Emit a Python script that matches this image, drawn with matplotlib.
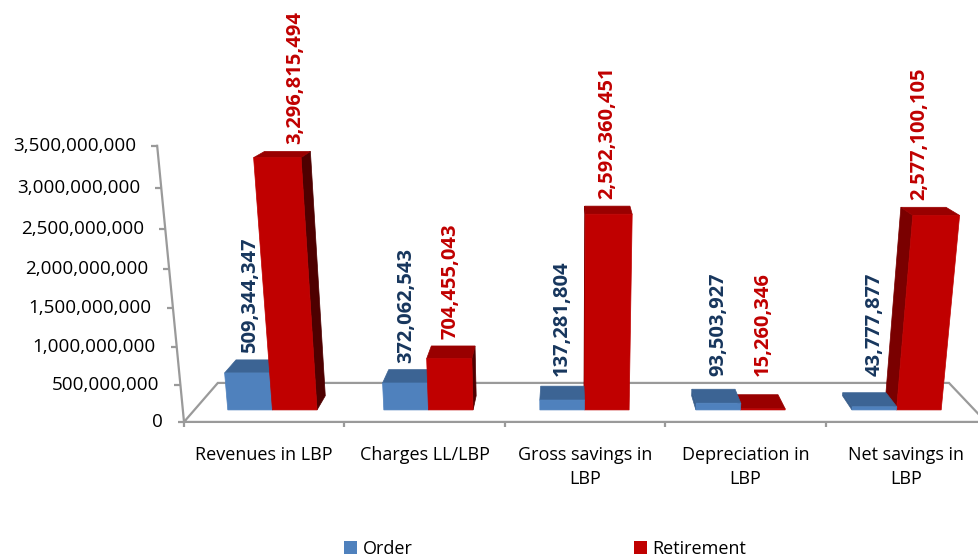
"""Order vs Retirement, 3-D clustered columns in the Excel style.

The 3-D look is a small pinhole projection: the world is a floor with bars standing on it,
seen from a camera tipped down a little, so verticals converge below and depth converges above.
"""

import matplotlib

matplotlib.use("Agg")
import matplotlib.pyplot as plt
import numpy as np
from matplotlib.patches import Patch, Polygon

plt.rcParams["font.family"] = ["Open Sans", "DejaVu Sans"]

categories = [
    "Revenues in LBP",
    "Charges LL/LBP",
    "Gross savings in\nLBP",
    "Depreciation in\nLBP",
    "Net savings in\nLBP",
]
order = [509344347, 372062543, 137281804, 93503927, 43777877]
retirement = [3296815494, 704455043, 2592360451, 15260346, 2577100105]
y_ticks = [0, 500000000, 1000000000, 1500000000, 2000000000, 2500000000, 3000000000, 3500000000]
series_names = ["Order", "Retirement"]

W, H = 979, 559

# camera
F = 1106.0
CX, CY = 567.0, 280.0
THETA = np.arctan(0.271)
COS, SIN = np.cos(THETA), np.sin(THETA)

# world (same units for height and depth)
FLOOR_Y = -413.7
FRONT_Z, BACK_Z = 1000.0, 1107.7
X_LEFT, X_RIGHT = -371.7, 406.6
CAT_W = (X_RIGHT - X_LEFT) / len(categories)
PER_VALUE = 268.8 / 3.5e9
BAR_Z0, BAR_Z1 = FRONT_Z + 31.0, FRONT_Z + 70.0
BAR_SLOTS = [(0.214, 0.5), (0.5, 0.786)]

FACE = {
    "Order": {"front": "#4F81BD", "top": "#3C6494", "right": "#2C4D75", "left": "#3A5F8C",
              "label": "#17365D"},
    "Retirement": {"front": "#C00000", "top": "#990000", "right": "#4E0000", "left": "#7A0000",
                   "label": "#C00000"},
}
LINE = "#9A9A9A"


def project(x, y, z):
    yc = y * COS + z * SIN
    zc = -y * SIN + z * COS
    return CX + F * x / zc, CY - F * yc / zc


def height(value):
    return FLOOR_Y + value * PER_VALUE


fig = plt.figure(figsize=(W / 100, H / 100), dpi=100)
ax = fig.add_axes([0, 0, 1, 1])
ax.set_xlim(0, W)
ax.set_ylim(H, 0)
ax.axis("off")

# floor outline
floor = [project(x, FLOOR_Y, z) for x, z in
         [(X_LEFT, FRONT_Z), (X_RIGHT, FRONT_Z), (X_RIGHT, BACK_Z), (X_LEFT, BACK_Z)]]
ax.add_patch(Polygon(floor, closed=True, fill=False, edgecolor=LINE, lw=1.6))

# category ticks and labels on the front edge
for i in range(len(categories) + 1):
    u, v = project(X_LEFT + i * CAT_W, FLOOR_Y, FRONT_Z)
    ax.plot([u, u], [v, v + 5], color=LINE, lw=1.6, solid_capstyle="butt")
for i, name in enumerate(categories):
    u, v = project(X_LEFT + (i + 0.5) * CAT_W, FLOOR_Y, FRONT_Z)
    ax.text(u, v + 24, name, ha="center", va="top", fontsize=13, linespacing=1.42,
            color="black")

# value axis up the front-left corner
u0, v0 = project(X_LEFT, FLOOR_Y, FRONT_Z)
u1, v1 = project(X_LEFT, height(y_ticks[-1]), FRONT_Z)
ax.plot([u0, u1], [v0, v1], color=LINE, lw=1.6)
for t in y_ticks:
    u, v = project(X_LEFT, height(t), FRONT_Z)
    ax.plot([u - 6, u], [v, v], color=LINE, lw=1.6, solid_capstyle="butt")
    ax.text(u - 21, v, f"{t:,}", ha="right", va="center", fontsize=13.6, color="black")

# bars, far from the camera axis first so nearer ones overlap them
bars = []
for i in range(len(categories)):
    for s, values in enumerate([order, retirement]):
        a, b = BAR_SLOTS[s]
        x0 = X_LEFT + (i + a) * CAT_W
        x1 = X_LEFT + (i + b) * CAT_W
        bars.append((abs((x0 + x1) / 2), x0, x1, values[i], series_names[s]))
bars.sort(key=lambda bar: -bar[0])

for _, x0, x1, value, name in bars:
    c = FACE[name]
    y0, y1 = FLOOR_Y, height(value)
    z0, z1 = BAR_Z0, BAR_Z1
    faces = []
    if x1 < 0:
        faces.append(([(x1, y0, z0), (x1, y0, z1), (x1, y1, z1), (x1, y1, z0)], c["right"]))
    if x0 > 0:
        faces.append(([(x0, y0, z0), (x0, y0, z1), (x0, y1, z1), (x0, y1, z0)], c["left"]))
    faces.append(([(x0, y1, z0), (x1, y1, z0), (x1, y1, z1), (x0, y1, z1)], c["top"]))
    faces.append(([(x0, y0, z0), (x1, y0, z0), (x1, y1, z0), (x0, y1, z0)], c["front"]))
    for pts, color in faces:
        ax.add_patch(Polygon([project(*p) for p in pts], closed=True, facecolor=color,
                             edgecolor=color, lw=0.5))

# value labels above the bar tops, never lower than the back of the floor
for _, x0, x1, value, name in bars:
    xm = (x0 + x1) / 2
    u, _ = project(xm, FLOOR_Y, BAR_Z0)
    _, v_top = project(xm, height(value), BAR_Z1)
    _, v_floor = project(xm, FLOOR_Y, BACK_Z)
    ax.text(u, min(v_top, v_floor) - 7, f"{value:,}", rotation=90, ha="center", va="bottom",
            fontsize=14.5, fontweight="bold", color=FACE[name]["label"])

handles = [Patch(facecolor=FACE[n]["front"], edgecolor="none") for n in series_names]
fig.legend(handles, series_names, loc="center", bbox_to_anchor=(0.557, 1 - 549 / H), ncol=2,
           frameon=False, fontsize=13, handlelength=0.7, handleheight=0.7, handletextpad=0.3,
           columnspacing=12.3)

fig.savefig("out.png", dpi=100)
